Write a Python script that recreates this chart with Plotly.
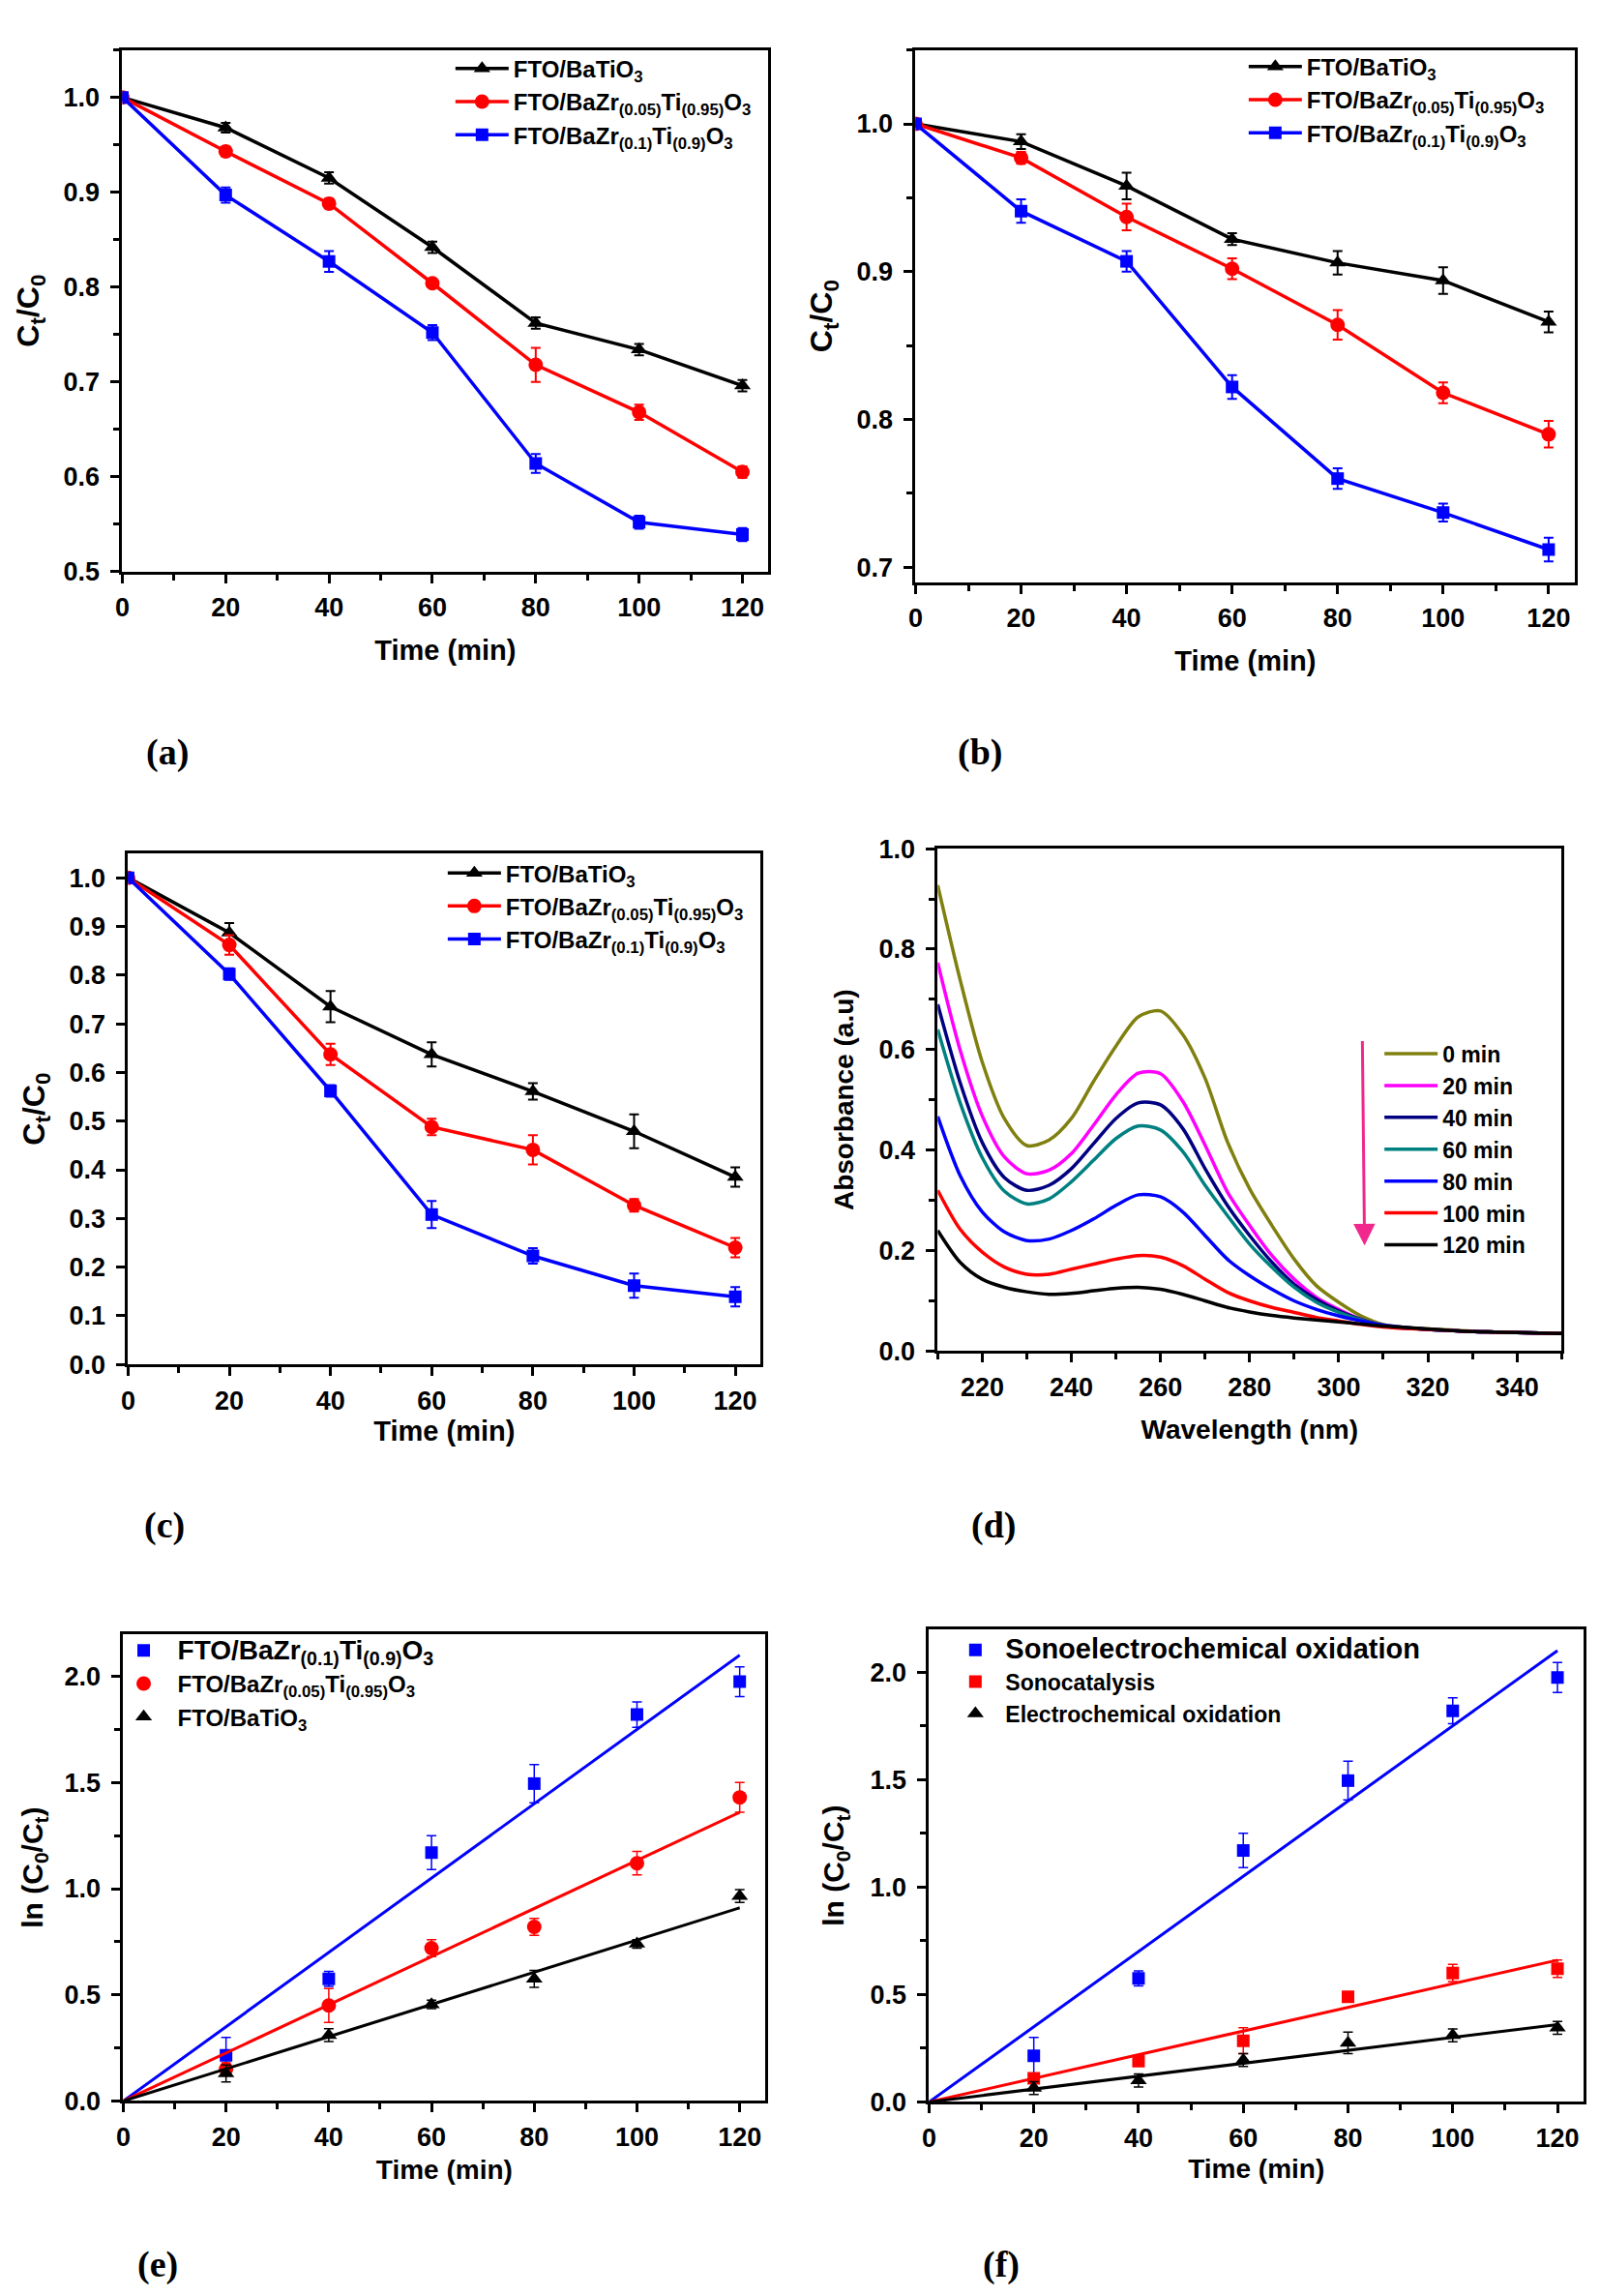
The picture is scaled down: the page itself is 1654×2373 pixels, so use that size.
import plotly.graph_objects as go

W, H = 1654, 2373

# ---- data -------------------------------------------------------------
time = [0, 20, 40, 60, 80, 100, 120]
time_k = [20, 40, 60, 80, 100, 120]
fit_t = [0, 120]

LBL_BTO = "FTO/BaTiO<sub>3</sub>"
LBL_Z05 = "FTO/BaZr<sub>(0.05)</sub>Ti<sub>(0.95)</sub>O<sub>3</sub>"
LBL_Z10 = "FTO/BaZr<sub>(0.1)</sub>Ti<sub>(0.9)</sub>O<sub>3</sub>"

# (a)
a_bto = [1.0, 0.968, 0.915, 0.842, 0.762, 0.734, 0.696]
a_bto_err = [0.003, 0.005, 0.006, 0.006, 0.006, 0.006, 0.006]
a_z05 = [1.0, 0.943, 0.888, 0.804, 0.718, 0.668, 0.605]
a_z05_err = [0.003, 0.005, 0.005, 0.004, 0.018, 0.008, 0.006]
a_z10 = [1.0, 0.897, 0.827, 0.752, 0.614, 0.552, 0.539]
a_z10_err = [0.003, 0.008, 0.011, 0.008, 0.010, 0.007, 0.007]

# (b)
b_bto = [1.0, 0.988, 0.958, 0.922, 0.906, 0.894, 0.866]
b_bto_err = [0.002, 0.005, 0.009, 0.004, 0.008, 0.009, 0.007]
b_z05 = [1.0, 0.977, 0.937, 0.902, 0.864, 0.818, 0.790]
b_z05_err = [0.002, 0.004, 0.009, 0.007, 0.010, 0.007, 0.009]
b_z10 = [1.0, 0.941, 0.907, 0.822, 0.760, 0.737, 0.712]
b_z10_err = [0.002, 0.008, 0.007, 0.008, 0.007, 0.006, 0.008]

# (c)
c_bto = [1.0, 0.887, 0.735, 0.637, 0.561, 0.479, 0.385]
c_bto_err = [0.005, 0.020, 0.032, 0.025, 0.017, 0.035, 0.020]
c_z05 = [1.0, 0.862, 0.637, 0.488, 0.441, 0.327, 0.240]
c_z05_err = [0.005, 0.020, 0.022, 0.017, 0.030, 0.013, 0.020]
c_z10 = [1.0, 0.802, 0.562, 0.308, 0.223, 0.162, 0.139]
c_z10_err = [0.005, 0.012, 0.012, 0.028, 0.016, 0.025, 0.020]

# (d) UV-vis spectra
wavelength = [210, 215, 220, 225, 230, 235, 240, 245, 250, 255, 260, 265, 270, 275, 280,
              285, 290, 295, 300, 305, 310, 315, 320, 325, 330, 335, 340, 345, 350]
spec_labels = ["0 min", "20 min", "40 min", "60 min", "80 min", "100 min", "120 min"]
spec_colors = ["#808010", "#ff00ff", "#000080", "#008080", "#0000ff", "#ff0000", "#000000"]
abs_0 = [0.927, 0.740, 0.575, 0.462, 0.409, 0.420, 0.463, 0.537, 0.607, 0.665, 0.677, 0.630, 0.543, 0.417,
         0.323, 0.250, 0.183, 0.130, 0.097, 0.070, 0.053, 0.047, 0.044, 0.042, 0.040, 0.038, 0.037, 0.036, 0.035]
abs_20 = [0.773, 0.600, 0.468, 0.386, 0.353, 0.360, 0.393, 0.450, 0.510, 0.553, 0.552, 0.497, 0.410, 0.317,
          0.250, 0.190, 0.143, 0.107, 0.083, 0.063, 0.050, 0.046, 0.043, 0.041, 0.039, 0.038, 0.037, 0.036, 0.035]
abs_40 = [0.690, 0.535, 0.415, 0.345, 0.320, 0.330, 0.363, 0.413, 0.463, 0.494, 0.490, 0.443, 0.363, 0.290,
          0.230, 0.177, 0.133, 0.103, 0.080, 0.063, 0.050, 0.046, 0.043, 0.041, 0.039, 0.038, 0.037, 0.036, 0.035]
abs_60 = [0.640, 0.495, 0.385, 0.318, 0.293, 0.303, 0.337, 0.380, 0.423, 0.448, 0.440, 0.397, 0.330, 0.270,
          0.213, 0.167, 0.127, 0.097, 0.077, 0.062, 0.050, 0.046, 0.043, 0.041, 0.039, 0.038, 0.037, 0.036, 0.035]
abs_80 = [0.467, 0.350, 0.277, 0.237, 0.220, 0.223, 0.240, 0.263, 0.290, 0.311, 0.307, 0.277, 0.230, 0.183,
          0.150, 0.123, 0.100, 0.083, 0.070, 0.060, 0.052, 0.047, 0.043, 0.041, 0.039, 0.038, 0.037, 0.036, 0.035]
abs_100 = [0.320, 0.243, 0.197, 0.167, 0.153, 0.153, 0.163, 0.173, 0.183, 0.190, 0.187, 0.170, 0.143, 0.117,
           0.100, 0.087, 0.077, 0.067, 0.060, 0.053, 0.048, 0.045, 0.043, 0.041, 0.039, 0.038, 0.037, 0.036, 0.035]
abs_120 = [0.240, 0.177, 0.143, 0.127, 0.118, 0.113, 0.115, 0.120, 0.125, 0.127, 0.123, 0.113, 0.100, 0.087,
           0.078, 0.071, 0.066, 0.062, 0.058, 0.054, 0.050, 0.047, 0.044, 0.041, 0.039, 0.038, 0.037, 0.036, 0.035]
spectra = [abs_0, abs_20, abs_40, abs_60, abs_80, abs_100, abs_120]

# (e) kinetics, three catalysts
e_z10 = [0.215, 0.575, 1.17, 1.495, 1.82, 1.975]
e_z10_err = [0.085, 0.035, 0.08, 0.09, 0.06, 0.07]
e_z05 = [0.15, 0.45, 0.72, 0.82, 1.12, 1.43]
e_z05_err = [0.03, 0.08, 0.04, 0.04, 0.055, 0.07]
e_bto = [0.13, 0.31, 0.455, 0.575, 0.74, 0.965]
e_bto_err = [0.04, 0.03, 0.02, 0.04, 0.02, 0.03]
e_fit_z10 = [0.0, 2.10]
e_fit_z05 = [0.0, 1.36]
e_fit_bto = [0.0, 0.91]

# (f) kinetics, three processes
f_sonoec = [0.215, 0.575, 1.17, 1.495, 1.82, 1.975]
f_sonoec_err = [0.085, 0.035, 0.08, 0.09, 0.06, 0.07]
f_sonocat = [0.11, 0.19, 0.285, 0.49, 0.60, 0.62]
f_sonocat_err = [0.02, 0.02, 0.06, 0.01, 0.04, 0.04]
f_ec = [0.065, 0.10, 0.195, 0.275, 0.31, 0.345]
f_ec_err = [0.03, 0.03, 0.03, 0.05, 0.03, 0.03]
f_fit_sonoec = [0.0, 2.10]
f_fit_sonocat = [0.0, 0.66]
f_fit_ec = [0.0, 0.36]

# ---- layout helpers ---------------------------------------------------
# plot boxes in page pixels: left, right, top, bottom
boxes = {
    1: (111, 782, 29, 575),
    2: (935, 1620, 29, 586),
    3: (117, 774, 870, 1405),
    4: (958, 1606, 865, 1391),
    5: (112, 779, 1687, 2176),
    6: (949, 1629, 1682, 2177),
}

FONT = "Liberation Sans, Arial, sans-serif"
fig = go.Figure()


def ax(n, kind):
    return kind if n == 1 else f"{kind}{n}"


def leg(n):
    return "legend" if n == 1 else f"legend{n}"


def add_decay(n, y, err, color, symbol, size, name):
    fig.add_trace(go.Scatter(
        x=time, y=y, mode="lines+markers", name=name,
        line=dict(color=color, width=3.5),
        marker=dict(symbol=symbol, size=size, color=color),
        error_y=dict(type="data", array=err, color=color, thickness=2, width=5),
        xaxis=ax(n, "x"), yaxis=ax(n, "y"), legend=leg(n)))


def add_kinetic(n, y, err, fit, color, symbol, size, name):
    fig.add_trace(go.Scatter(
        x=time_k, y=y, mode="markers", name=name,
        marker=dict(symbol=symbol, size=size, color=color),
        error_y=dict(type="data", array=err, color=color, thickness=1.5, width=5),
        xaxis=ax(n, "x"), yaxis=ax(n, "y"), legend=leg(n)))
    fig.add_trace(go.Scatter(
        x=fit_t, y=fit, mode="lines", showlegend=False,
        line=dict(color=color, width=3),
        xaxis=ax(n, "x"), yaxis=ax(n, "y")))


# (a)-(c)
for n, sets in [(1, [(a_bto, a_bto_err), (a_z05, a_z05_err), (a_z10, a_z10_err)]),
                (2, [(b_bto, b_bto_err), (b_z05, b_z05_err), (b_z10, b_z10_err)]),
                (3, [(c_bto, c_bto_err), (c_z05, c_z05_err), (c_z10, c_z10_err)])]:
    add_decay(n, sets[0][0], sets[0][1], "black", "triangle-up", 15, LBL_BTO)
    add_decay(n, sets[1][0], sets[1][1], "#ff0000", "circle", 15, LBL_Z05)
    add_decay(n, sets[2][0], sets[2][1], "#0000ff", "square", 13, LBL_Z10)

# (d)
for lab, col, vals in zip(spec_labels, spec_colors, spectra):
    fig.add_trace(go.Scatter(
        x=wavelength, y=vals, mode="lines", name=lab,
        line=dict(color=col, width=3.5, shape="spline", smoothing=0.8),
        xaxis="x4", yaxis="y4", legend="legend4"))

# (e)
add_kinetic(5, e_z10, e_z10_err, e_fit_z10, "#0000ff", "square", 13,
            '<span style="font-size:28px">' + LBL_Z10 + "</span>")
add_kinetic(5, e_z05, e_z05_err, e_fit_z05, "#ff0000", "circle", 15, LBL_Z05)
add_kinetic(5, e_bto, e_bto_err, e_fit_bto, "black", "triangle-up", 15, LBL_BTO)

# (f)
add_kinetic(6, f_sonoec, f_sonoec_err, f_fit_sonoec, "#0000ff", "square", 13,
            '<span style="font-size:29px">Sonoelectrochemical oxidation</span>')
add_kinetic(6, f_sonocat, f_sonocat_err, f_fit_sonocat, "#ff0000", "square", 13, "Sonocatalysis")
add_kinetic(6, f_ec, f_ec_err, f_fit_ec, "black", "triangle-up", 15, "Electrochemical oxidation")


def axis(n, kind, rng, dtick, tick0, minor, fmt, title, tsize=30, standoff=12):
    l, r, t, b = boxes[n]
    if kind == "x":
        dom = [l / W, r / W]
    else:
        dom = [1 - b / H, 1 - t / H]
    d = dict(
        domain=dom, range=rng, anchor=ax(n, "y" if kind == "x" else "x"),
        showline=True, linewidth=3, linecolor="black", mirror=True,
        ticks="outside", ticklen=9, tickwidth=3, tickcolor="black",
        ticklabelstandoff=2 if kind == "x" else 6,
        dtick=dtick, tick0=tick0, tickformat=fmt,
        showgrid=False, zeroline=False,
        tickfont=dict(size=27, family=FONT, color="black", weight="bold"),
        title=dict(text=title, standoff=standoff,
                   font=dict(size=tsize, family=FONT, color="black", weight="bold")),
    )
    if minor:
        d["minor"] = dict(dtick=minor, ticks="outside", ticklen=6, tickwidth=2.5,
                          tickcolor="black", showgrid=False)
    return d


CT = "C<sub>t</sub>/C<sub>0</sub>"
LN = "ln (C<sub>0</sub>/C<sub>t</sub>)"
TM = "Time (min)"

layout = dict(
    width=W, height=H, paper_bgcolor="white", plot_bgcolor="white",
    margin=dict(l=0, r=0, t=0, b=0),
    font=dict(family=FONT, color="black", weight="bold"),
)
layout["xaxis"] = axis(1, "x", [0, 125], 20, 0, 10, "d", TM, 29, 20)
layout["yaxis"] = axis(1, "y", [0.5, 1.05], 0.1, 0, 0.05, ".1f", CT, 32, 16)
layout["xaxis2"] = axis(2, "x", [0, 125], 20, 0, 10, "d", TM, 29, 20)
layout["yaxis2"] = axis(2, "y", [0.69, 1.05], 0.1, 0, 0.05, ".1f", CT, 32, 16)
layout["xaxis3"] = axis(3, "x", [0, 125], 20, 0, 10, "d", TM, 29, 8)
layout["yaxis3"] = axis(3, "y", [0, 1.05], 0.1, 0, None, ".1f", CT, 32, 16)
layout["xaxis4"] = axis(4, "x", [210, 350], 20, 220, 10, "d", "Wavelength (nm)", 28, 20)
layout["yaxis4"] = axis(4, "y", [0, 1.0], 0.2, 0, 0.1, ".1f", "Absorbance (a.u)", 28, 18)
layout["xaxis5"] = axis(5, "x", [0, 125], 20, 0, 10, "d", TM, 28, 10)
layout["yaxis5"] = axis(5, "y", [0, 2.2], 0.5, 0, 0.25, ".1f", LN, 30, 14)
layout["xaxis6"] = axis(6, "x", [0, 125], 20, 0, 10, "d", TM, 28, 8)
layout["yaxis6"] = axis(6, "y", [0, 2.2], 0.5, 0, 0.25, ".1f", LN, 30, 18)


def legend_at(px, py, size, itemwidth=30):
    return dict(x=px / W, y=1 - py / H, xanchor="left", yanchor="top",
                bgcolor="rgba(0,0,0,0)", borderwidth=0, itemwidth=itemwidth,
                tracegroupgap=0, itemclick=False,
                font=dict(size=size, family=FONT, color="black", weight="bold"))


layout["legend"] = legend_at(452, 26, 24, 55)
layout["legend2"] = legend_at(1276, 24, 24, 55)
layout["legend3"] = legend_at(444, 868, 24, 55)
layout["legend4"] = legend_at(1417, 1058, 23, 55)
layout["legend5"] = legend_at(98, 1682, 24, 60)
layout["legend6"] = legend_at(966, 1682, 23, 52)

panel_labels = [("(a)", 158, 764), ("(b)", 1002, 764), ("(c)", 155, 1573),
                ("(d)", 1016, 1573), ("(e)", 148, 2347), ("(f)", 1024, 2347)]
annotations = []
for txt, px, py in panel_labels:
    annotations.append(dict(
        text=txt, x=px / W, y=1 - py / H, xref="paper", yref="paper",
        showarrow=False, xanchor="center", yanchor="middle",
        font=dict(size=38, family="Liberation Serif, Times New Roman, serif",
                  color="black", weight="bold")))

# degradation arrow in (d)
annotations.append(dict(
    x=305.8, y=0.21, ax=305.3, ay=0.62, xref="x4", yref="y4", axref="x4", ayref="y4",
    showarrow=True, arrowhead=2, arrowsize=1.5, arrowwidth=3, arrowcolor="#f0288c", text=""))
layout["annotations"] = annotations

fig.update_layout(**layout)
fig.write_html("out.html")
